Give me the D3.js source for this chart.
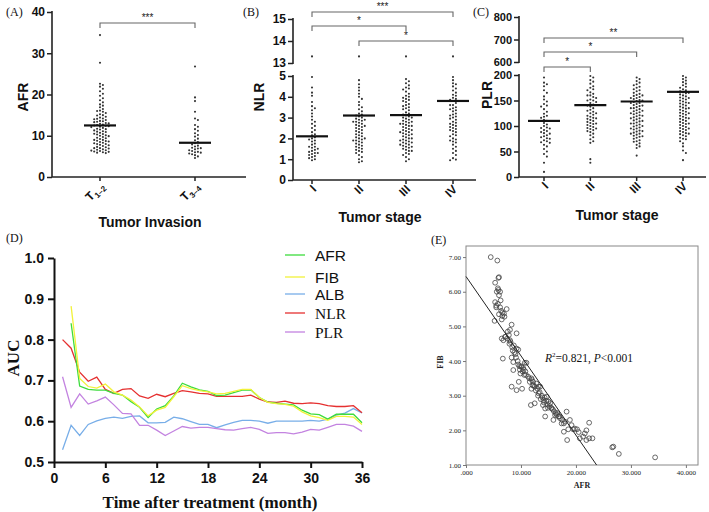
<!DOCTYPE html>
<html><head><meta charset="utf-8">
<script src="https://cdn.jsdelivr.net/npm/d3@7"></script>
<style>body{margin:0;background:#fff}svg{display:block}</style>
</head><body>
<svg id="c" width="709" height="512"></svg>
<script>
// ---------------- DATA ----------------
const catsA = ["T1–2", "T3–4"];
const afrT12 = [34.4, 27.7, 22.6, 22.3, 21.9, 21.4, 20.8, 20.2, 19.7, 19.1, 18.6, 18.1, 17.6, 17.3, 16.9, 16.5, 16.1, 15.8, 15.5, 15.2, 14.9, 14.6, 14.4, 14.2, 14.0, 13.8, 13.6, 13.4, 13.3, 13.1, 12.9, 12.7, 12.6, 12.4, 12.2, 12.1, 11.9, 11.7, 11.5, 11.3, 11.1, 10.9, 10.7, 10.5, 10.3, 10.1, 9.9, 9.7, 9.5, 9.4, 9.2, 9.0, 8.8, 8.7, 8.5, 8.3, 8.2, 8.0, 7.8, 7.7, 7.5, 7.3, 7.2, 7.0, 6.9, 6.7, 6.6, 6.4, 6.3, 6.1, 6.0, 5.9, 5.8, 14.1, 13.0, 12.5, 11.0, 10.0, 9.0, 8.0, 7.0, 6.5, 6.2, 15.0, 16.0, 12.3, 11.6, 13.5, 10.4, 8.6];
const afrT34 = [26.8, 19.3, 18.4, 15.8, 14.2, 13.8, 12.6, 12.2, 11.6, 11.2, 10.6, 10.2, 9.8, 9.3, 8.9, 8.5, 8.2, 7.9, 7.6, 7.4, 7.1, 6.9, 6.7, 6.5, 6.3, 6.1, 5.9, 5.7, 5.5, 5.3, 5.0, 4.6, 6.0, 7.0];
const afrMedians = [12.5, 8.3];

const stages = ["I", "II", "III", "IV"];
const nlrI = [13.3, 4.95, 4.45, 4.2, 4.05, 3.75, 3.55, 3.45, 3.35, 3.2, 3.05, 2.9, 2.8, 2.7, 2.6, 2.5, 2.4, 2.3, 2.2, 2.15, 2.05, 2.0, 1.95, 1.9, 1.85, 1.75, 1.7, 1.6, 1.55, 1.45, 1.4, 1.35, 1.3, 1.25, 1.2, 1.15, 1.1, 1.05, 1.0, 0.95, 1.6, 1.5, 1.3];
const nlrII = [13.3, 4.8, 4.6, 4.45, 4.3, 4.15, 4.0, 3.9, 3.75, 3.6, 3.5, 3.4, 3.3, 3.2, 3.15, 3.1, 3.05, 3.0, 2.95, 2.9, 2.85, 2.8, 2.75, 2.7, 2.65, 2.6, 2.55, 2.5, 2.45, 2.4, 2.35, 2.3, 2.25, 2.2, 2.15, 2.1, 2.05, 2.0, 1.95, 1.9, 1.85, 1.8, 1.75, 1.7, 1.65, 1.6, 1.55, 1.5, 1.45, 1.4, 1.35, 1.3, 1.2, 1.1, 1.0, 0.9, 0.85, 2.0, 1.9, 2.8, 2.6, 2.9];
const nlrIII = [13.3, 4.85, 4.75, 4.65, 4.55, 4.45, 4.35, 4.25, 4.15, 4.05, 3.95, 3.85, 3.75, 3.65, 3.55, 3.45, 3.35, 3.25, 3.15, 3.1, 3.05, 3.0, 2.95, 2.9, 2.85, 2.8, 2.75, 2.7, 2.65, 2.6, 2.55, 2.5, 2.45, 2.4, 2.35, 2.3, 2.25, 2.2, 2.15, 2.1, 2.05, 2.0, 1.95, 1.9, 1.85, 1.8, 1.75, 1.7, 1.65, 1.6, 1.55, 1.5, 1.45, 1.4, 1.3, 1.2, 1.1, 1.0, 0.9, 4.4, 4.0, 3.8, 3.6, 3.4, 3.2, 3.0, 2.8, 2.6, 2.4, 2.2, 2.0, 1.8, 1.6, 1.4, 1.25, 3.9, 3.5, 2.7, 2.3, 1.9, 1.7];
const nlrIV = [13.3, 4.95, 4.8, 4.65, 4.5, 4.4, 4.3, 4.2, 4.05, 3.95, 3.85, 3.8, 3.7, 3.6, 3.5, 3.4, 3.3, 3.2, 3.1, 3.0, 2.9, 2.8, 2.7, 2.6, 2.5, 2.4, 2.3, 2.2, 2.1, 2.0, 1.9, 1.8, 1.7, 1.6, 1.5, 1.4, 1.3, 1.2, 1.05, 0.95, 3.9, 3.6, 3.35, 3.15, 2.95, 2.75, 2.55, 2.35, 2.15, 1.95, 1.85, 2.45, 2.65, 3.05, 3.45, 4.1, 4.6, 0.98];
const nlrMedians = [2.1, 3.1, 3.12, 3.8];

const plrI = [195, 185, 182, 178, 170, 165, 158, 152, 148, 143, 138, 133, 128, 124, 120, 116, 112, 110, 106, 103, 100, 97, 95, 92, 90, 88, 85, 82, 80, 78, 75, 72, 70, 67, 63, 60, 55, 50, 45, 40, 28, 10, 118, 96, 86, 76, 68, 140];
const plrII = [198, 195, 190, 187, 183, 178, 175, 170, 166, 163, 160, 157, 155, 152, 150, 147, 145, 142, 140, 138, 135, 132, 130, 128, 125, 122, 120, 118, 116, 114, 112, 110, 108, 106, 104, 102, 100, 98, 96, 94, 92, 90, 88, 85, 82, 78, 74, 70, 67, 35, 28, 160, 150, 115, 105, 125, 95, 172];
const plrIII = [195, 192, 188, 185, 182, 180, 177, 175, 172, 170, 168, 165, 163, 161, 159, 157, 155, 153, 151, 149, 147, 145, 143, 141, 139, 137, 135, 133, 131, 129, 127, 125, 123, 121, 119, 117, 115, 113, 111, 109, 107, 105, 103, 101, 99, 97, 95, 93, 91, 89, 87, 85, 83, 81, 79, 77, 75, 72, 69, 66, 63, 60, 57, 42, 160, 150, 140, 130, 120, 110, 100, 90, 80, 70, 155, 145, 135, 125, 115, 105, 95, 85];
const plrIV = [198, 195, 192, 189, 186, 183, 180, 177, 175, 172, 170, 168, 166, 164, 162, 160, 158, 156, 154, 152, 150, 148, 146, 144, 142, 140, 138, 136, 134, 132, 130, 128, 126, 124, 122, 120, 118, 116, 114, 112, 110, 108, 106, 104, 102, 100, 98, 96, 94, 92, 90, 88, 86, 84, 82, 80, 77, 74, 70, 66, 60, 52, 47, 33, 165, 155, 145, 135, 125, 115, 105, 95, 85, 75];
const plrMedians = [110, 141, 148, 167];

const ticksA = [0, 10, 20, 30, 40];
const ticksBlow = [0, 1, 2, 3, 4, 5], ticksBup = [13, 14, 15];
const ticksClow = [0, 50, 100, 150, 200], ticksCup = [600, 700, 800];

// panel D
const months = [1,2,3,4,5,6,7,8,9,10,11,12,13,14,15,16,17,18,19,20,21,22,23,24,25,26,27,28,29,30,31,32,33,34,35,36];
const aucAFR = [null,0.840,0.686,0.678,0.676,0.676,0.668,0.664,0.648,0.634,0.609,0.630,0.638,0.662,0.693,0.684,0.677,0.673,0.663,0.664,0.670,0.676,0.677,0.658,0.647,0.644,0.642,0.640,0.627,0.618,0.616,0.605,0.617,0.617,0.617,0.596];
const aucFIB = [null,0.882,0.705,0.685,0.681,0.691,0.672,0.664,0.652,0.635,0.613,0.627,0.634,0.660,0.687,0.680,0.675,0.672,0.667,0.668,0.673,0.678,0.678,0.658,0.646,0.643,0.641,0.637,0.623,0.613,0.609,0.602,0.612,0.612,0.610,0.592];
const aucALB = [0.530,0.590,0.565,0.592,0.601,0.607,0.610,0.607,0.612,0.613,0.596,0.596,0.597,0.610,0.606,0.599,0.592,0.592,0.584,0.591,0.597,0.602,0.602,0.600,0.595,0.600,0.600,0.600,0.600,0.602,0.600,0.605,0.615,0.620,0.631,0.620];
const aucNLR = [0.800,0.779,0.720,0.698,0.708,0.678,0.668,0.678,0.680,0.662,0.656,0.666,0.660,0.668,0.675,0.672,0.668,0.667,0.661,0.661,0.661,0.661,0.664,0.654,0.647,0.646,0.649,0.644,0.643,0.645,0.643,0.638,0.636,0.636,0.638,0.621];
const aucPLR = [0.709,0.634,0.667,0.642,0.650,0.659,0.640,0.619,0.618,0.590,0.590,0.578,0.565,0.576,0.587,0.583,0.585,0.585,0.582,0.579,0.578,0.582,0.585,0.580,0.570,0.572,0.572,0.569,0.573,0.580,0.578,0.585,0.592,0.592,0.588,0.575];
const seriesNames = ["AFR", "FIB", "ALB", "NLR", "PLR"];
const seriesColors = ["#3ddc3d", "#f2f23a", "#78aee8", "#e53030", "#c383e0"];
const ticksDx = [0, 6, 12, 18, 24, 30, 36];
const ticksDy = [0.5, 0.6, 0.7, 0.8, 0.9, 1.0];

// panel E  [AFR, FIB]
const afrVals = [4.5,5.7,5.9,6.0,5.3,5.6,5.9,6.2,5.8,6.0,5.3,5.5,5.8,6.2,6.6,7.4,6.0,5.2,6.5,6.9,6.6,7.0,6.4,6.5,7.1,8.0,8.3,9.2,6.7,7.5,7.8,8.0,8.7,9.2,9.5,8.3,8.6,8.6,9.5,10.1,10.4,10.7,9.9,9.6,9.2,10.2,8.3,8.8,9.0,9.4,9.8,10.0,10.3,10.6,11.0,7.6,8.1,8.4,9.1,11.3,11.9,12.2,11.9,12.5,13.2,13.5,12.0,12.8,13.0,11.8,12.5,13.2,13.8,14.1,14.0,14.4,14.4,14.7,15.0,15.3,15.6,15.9,16.2,16.8,17.1,17.4,17.8,18.3,17.8,18.4,18.6,18.9,19.2,19.5,20.2,20.7,21.3,21.6,21.9,22.4,21.9,22.4,23.0,26.6,26.8,27.8,34.4,13.6,14.2,14.8,15.2,15.5,16.0,16.5,17.0,13.9,14.6,15.8,16.6,12.3,13.4,14.3,11.5,10.8,12.7,17.5,19.8,20.5,18.0,9.7,10.9,7.2,6.8,7.9,8.5,5.5,6.3,14.9,16.3,13.1,11.6,12.1,10.5];
const fibVals = [7.00,6.90,6.40,6.42,6.26,6.00,6.05,6.00,6.10,5.90,5.70,5.55,5.65,5.55,5.40,5.50,5.35,5.16,5.20,5.37,5.30,5.28,5.45,4.65,4.70,4.90,5.05,4.80,4.07,4.65,4.75,4.60,4.45,4.36,4.33,4.10,3.97,3.74,3.90,3.83,3.80,3.95,3.64,3.40,3.16,3.20,3.26,4.25,4.20,4.00,3.75,3.85,3.70,3.60,3.95,4.85,4.55,4.40,4.10,3.55,3.50,3.40,3.20,3.26,3.26,3.26,3.45,3.35,3.20,2.73,2.78,3.07,3.00,2.87,2.73,2.63,2.40,2.97,2.83,2.78,2.63,2.30,2.44,2.40,2.35,2.20,2.20,2.54,1.96,1.72,2.03,2.30,2.15,2.03,2.03,1.77,1.82,1.91,2.00,2.22,1.72,1.77,1.77,1.51,1.53,1.32,1.22,2.90,2.80,2.75,2.70,2.65,2.55,2.45,2.40,2.95,2.85,2.60,2.50,3.30,3.10,2.95,3.50,3.70,3.15,2.30,2.05,1.95,2.25,3.85,3.60,4.70,4.60,4.50,4.30,5.60,5.75,2.65,2.50,3.00,3.40,3.30,3.75];
const regIntercept = 6.44, regSlope = -0.229;
const ticksEx = [0, 10, 20, 30, 40];
const ticksEy = [1, 2, 3, 4, 5, 6, 7];

// ---------------- DRAW ----------------
const svg = d3.select("#c");
const SANS = "'Liberation Sans', Arial, sans-serif";
const SERIF = "'Liberation Serif', 'Times New Roman', serif";

function segScale(segs) {
  const scales = segs.map(s => d3.scaleLinear().domain(s.domain).range(s.range));
  return v => {
    for (let i = 0; i < segs.length; i++) {
      if (v >= segs[i].domain[0] && v <= segs[i].domain[1]) return scales[i](v);
    }
    return scales[0](v);
  };
}

function swarm(values, ys, cx, d) {
  const placed = [];
  const sorted = values.slice().sort((a, b) => b - a);
  sorted.forEach(v => {
    const y = ys(v);
    for (let k = 0; k < 40; k++) {
      const off = k === 0 ? 0 : (k % 2 ? 1 : -1) * Math.ceil(k / 2) * d;
      const x = cx + off;
      const hit = placed.some(p => (p.x - x) ** 2 + (p.y - y) ** 2 < d * d * 0.95);
      if (!hit) { placed.push({x, y}); break; }
    }
  });
  return placed;
}

function dotPanel(o) {
  const g = svg.append("g");
  const ys = segScale(o.segs);
  const x = d3.scalePoint().domain(o.cats).range(o.xr);
  // y axis segments
  o.segs.forEach((s, i) => {
    const sc = d3.scaleLinear().domain(s.domain).range(s.range);
    const ax = g.append("g").attr("transform", `translate(${o.ax},0)`)
      .call(d3.axisLeft(sc).tickValues(o.ticks[i]).tickFormat(d3.format("d")).tickSize(5).tickPadding(2).tickSizeOuter(0));
    ax.select(".domain").attr("stroke", "#222").attr("stroke-width", 1.6)
      .attr("d", `M0,${s.range[0] + (i === 0 ? 0 : 1)}V${s.range[1] - 1}`);
    ax.selectAll(".tick line").attr("stroke", "#222").attr("stroke-width", 1.5);
    ax.selectAll("text").attr("font-family", SANS).attr("font-weight", "bold")
      .attr("font-size", o.tfs).attr("fill", "#111");
  });
  // x axis
  const xb = o.segs[0].range[0];
  g.append("line").attr("x1", o.ax).attr("x2", o.xend).attr("y1", xb).attr("y2", xb)
    .attr("stroke", "#222").attr("stroke-width", 1.6);
  o.cats.forEach((c, i) => {
    const cx = x(c);
    g.append("line").attr("x1", cx).attr("x2", cx).attr("y1", xb).attr("y2", xb + 4)
      .attr("stroke", "#222").attr("stroke-width", 1.5);
    const t = g.append("text").attr("transform", `translate(${cx + 5},${xb + 10}) rotate(-45)`)
      .attr("text-anchor", "end").attr("font-family", SANS).attr("font-weight", "bold")
      .attr("font-size", 12).attr("fill", "#111");
    if (o.sub) {
      t.append("tspan").text(c.slice(0, 1));
      t.append("tspan").attr("font-size", 8).attr("dy", 3).text(c.slice(1));
    } else t.text(c);
    // dots
    const pts = swarm(o.groups[i], ys, cx, 2.9);
    g.selectAll(null).data(pts).enter().append("circle")
      .attr("cx", p => p.x).attr("cy", p => p.y).attr("r", 1.05).attr("fill", "#333");
    // median
    const my = ys(o.medians[i]);
    g.append("line").attr("x1", cx - 16).attr("x2", cx + 16).attr("y1", my).attr("y2", my)
      .attr("stroke", "#111").attr("stroke-width", 2.2);
  });
  // brackets
  o.brackets.forEach(b => {
    const x1 = x(o.cats[b[0]]), x2 = x(o.cats[b[1]]), yb = b[2];
    g.append("path").attr("d", `M${x1},${yb + 5}V${yb}H${x2}V${yb + 5}`)
      .attr("fill", "none").attr("stroke", "#666").attr("stroke-width", 1.1);
    g.append("text").attr("x", (x1 + x2) / 2).attr("y", yb - 2).attr("text-anchor", "middle")
      .attr("font-family", SANS).attr("font-size", 10).attr("fill", "#222").text(b[3]);
  });
  // labels
  g.append("text").attr("transform", `translate(${o.ylx},${o.yly}) rotate(-90)`)
    .attr("text-anchor", "middle").attr("font-family", SANS).attr("font-weight", "bold")
    .attr("font-size", 14).attr("fill", "#111").text(o.ylab);
  g.append("text").attr("x", o.xtx).attr("y", o.xty).attr("text-anchor", "middle")
    .attr("font-family", SANS).attr("font-weight", "bold").attr("font-size", 14)
    .attr("fill", "#111").text(o.xlab);
  g.append("text").attr("x", o.plx).attr("y", 16).attr("font-family", SERIF)
    .attr("font-size", 12).attr("fill", "#111").text(o.pl);
}

dotPanel({
  cats: catsA, groups: [afrT12, afrT34], medians: afrMedians, xr: [100, 195], ax: 52, xend: 246,
  segs: [{domain: [0, 40], range: [177, 12]}], ticks: [ticksA], sub: true, tfs: 12,
  brackets: [[0, 1, 23, "***"]],
  ylab: "AFR", ylx: 28, yly: 97, xlab: "Tumor Invasion", xtx: 150, xty: 227, pl: "(A)", plx: 6
});
dotPanel({
  cats: stages, groups: [nlrI, nlrII, nlrIII, nlrIV], medians: nlrMedians, xr: [312, 453], ax: 293, xend: 476,
  segs: [{domain: [0, 5], range: [180, 76]}, {domain: [13, 15], range: [63, 19]}], ticks: [ticksBlow, ticksBup], tfs: 12,
  brackets: [[0, 3, 12, "***"], [0, 2, 26, "*"], [1, 3, 41, "*"]],
  ylab: "NLR", ylx: 264, yly: 97, xlab: "Tumor stage", xtx: 380, xty: 222, pl: "(B)", plx: 243
});
dotPanel({
  cats: stages, groups: [plrI, plrII, plrIII, plrIV], medians: plrMedians, xr: [544, 683], ax: 519, xend: 706,
  segs: [{domain: [0, 200], range: [177, 75]}, {domain: [600, 800], range: [62, 17]}], ticks: [ticksClow, ticksCup], tfs: 11,
  brackets: [[0, 3, 38, "**"], [0, 2, 52, "*"], [0, 1, 67, "*"]],
  ylab: "PLR", ylx: 492, yly: 95, xlab: "Tumor stage", xtx: 617, xty: 220, pl: "(C)", plx: 473
});

// ---------- Panel D ----------
(function () {
  const g = svg.append("g");
  const x = d3.scaleLinear().domain([0, 36]).range([54, 362]);
  const y = d3.scaleLinear().domain([0.5, 1.0]).range([462, 258]);
  const ax = g.append("g").attr("transform", "translate(0,462)")
    .call(d3.axisBottom(x).tickValues(ticksDx).tickSize(6).tickPadding(5).tickSizeOuter(0));
  const ay = g.append("g").attr("transform", "translate(54,0)")
    .call(d3.axisLeft(y).tickValues(ticksDy).tickFormat(d3.format(".1f")).tickSize(6).tickPadding(4).tickSizeOuter(0));
  [ax, ay].forEach(a => {
    a.select(".domain").attr("stroke", "#111").attr("stroke-width", 2);
    a.selectAll(".tick line").attr("stroke", "#111").attr("stroke-width", 2);
    a.selectAll("text").attr("font-family", SANS).attr("font-weight", "bold")
      .attr("font-size", 14).attr("fill", "#111");
  });
  const all = [aucAFR, aucFIB, aucALB, aucNLR, aucPLR];
  const drawOrder = [2, 4, 3, 0, 1];
  drawOrder.forEach(i => {
    const line = d3.line().defined(d => d[1] != null).x(d => x(d[0])).y(d => y(d[1]));
    g.append("path").datum(months.map((m, k) => [m, all[i][k]]))
      .attr("d", line).attr("fill", "none").attr("stroke", seriesColors[i]).attr("stroke-width", 1.3);
  });
  // legend
  const ly = [255, 277, 294, 313, 332];
  seriesNames.forEach((n, i) => {
    g.append("line").attr("x1", 285).attr("x2", 305).attr("y1", ly[i]).attr("y2", ly[i])
      .attr("stroke", seriesColors[i]).attr("stroke-width", 1.3);
    g.append("text").attr("x", 315).attr("y", ly[i] + 6)
      .attr("font-family", i >= 3 ? SERIF : SANS).attr("font-size", 15.5)
      .attr("fill", "#111").text(n);
  });
  g.append("text").attr("transform", "translate(19,358) rotate(-90)").attr("text-anchor", "middle")
    .attr("font-family", SERIF).attr("font-weight", "bold").attr("font-size", 17).attr("fill", "#111").text("AUC");
  g.append("text").attr("x", 210).attr("y", 508).attr("text-anchor", "middle")
    .attr("font-family", SERIF).attr("font-weight", "bold").attr("font-size", 17).attr("fill", "#111")
    .text("Time after treatment (month)");
  g.append("text").attr("x", 6).attr("y", 242).attr("font-family", SERIF).attr("font-size", 12)
    .attr("fill", "#111").text("(D)");
})();

// ---------- Panel E ----------
(function () {
  const g = svg.append("g");
  const x = d3.scaleLinear().domain([0, 42.2]).range([466, 698]);
  const y = d3.scaleLinear().domain([1, 7.32]).range([465, 246]);
  g.append("rect").attr("x", 466).attr("y", 246).attr("width", 232).attr("height", 219)
    .attr("fill", "none").attr("stroke", "#888").attr("stroke-width", 1);
  const ax = g.append("g").attr("transform", "translate(0,465)")
    .call(d3.axisBottom(x).tickValues(ticksEx).tickFormat(d => d === 0 ? ".000" : d3.format(".3f")(d)).tickSize(3).tickPadding(2).tickSizeOuter(0));
  const ay = g.append("g").attr("transform", "translate(466,0)")
    .call(d3.axisLeft(y).tickValues(ticksEy).tickFormat(d3.format(".2f")).tickSize(3).tickPadding(2).tickSizeOuter(0));
  [ax, ay].forEach(a => {
    a.select(".domain").remove();
    a.selectAll(".tick line").attr("stroke", "#777");
    a.selectAll("text").attr("font-family", SERIF).attr("font-size", 7).attr("fill", "#222");
  });
  const pts = afrVals.map((a, i) => [a, fibVals[i]]);
  g.selectAll(null).data(pts).enter().append("circle")
    .attr("cx", d => x(d[0])).attr("cy", d => y(d[1])).attr("r", 2.4)
    .attr("fill", "none").attr("stroke", "#444").attr("stroke-width", 0.8);
  const xEnd = (1 - regIntercept) / regSlope;
  g.append("line").attr("x1", x(0)).attr("y1", y(regIntercept)).attr("x2", x(xEnd)).attr("y2", y(1))
    .attr("stroke", "#222").attr("stroke-width", 1);
  const t = g.append("text").attr("x", 545).attr("y", 362).attr("font-family", SERIF)
    .attr("font-size", 11.5).attr("fill", "#111");
  t.append("tspan").attr("font-style", "italic").text("R");
  t.append("tspan").attr("font-size", 7).attr("dy", -5).text("2");
  t.append("tspan").attr("dy", 5).text("=0.821, ");
  t.append("tspan").attr("font-style", "italic").text("P");
  t.append("tspan").text("<0.001");
  g.append("text").attr("transform", "translate(443,362) rotate(-90)").attr("text-anchor", "middle")
    .attr("font-family", SERIF).attr("font-weight", "bold").attr("font-size", 8).attr("fill", "#222").text("FIB");
  g.append("text").attr("x", 582).attr("y", 488).attr("text-anchor", "middle")
    .attr("font-family", SERIF).attr("font-weight", "bold").attr("font-size", 8).attr("fill", "#222").text("AFR");
  g.append("text").attr("x", 431).attr("y", 244).attr("font-family", SERIF).attr("font-size", 12)
    .attr("fill", "#111").text("(E)");
})();
</script>
</body></html>
